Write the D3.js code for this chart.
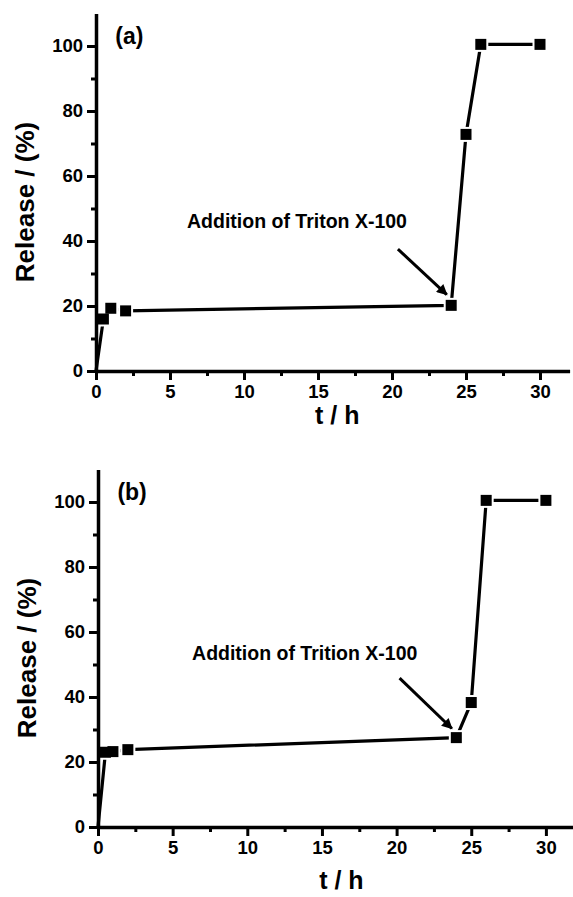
<!DOCTYPE html>
<html>
<head>
<meta charset="utf-8">
<script src="https://cdn.jsdelivr.net/npm/d3@7"></script>
<style>
  body { margin: 0; background: #fff; }
  text { font-family: "Liberation Sans", Arial, sans-serif; font-weight: bold; fill: #000; }
</style>
</head>
<body>
<script>
// values
const timeA = [0, 0.5, 1, 2, 24, 25, 26, 30];
const releaseA = [0, 16, 19.3, 18.5, 20.2, 72.8, 100.5, 100.5];
const timeB = [0, 0.5, 1, 2, 24, 25, 26, 30];
const releaseB = [0, 23, 23.2, 23.8, 27.5, 38.3, 100.5, 100.5];

const xMajor = [0, 5, 10, 15, 20, 25, 30];
const xMinor = [2.5, 7.5, 12.5, 17.5, 22.5, 27.5];
const yMajor = [0, 20, 40, 60, 80, 100];
const yMinor = [10, 30, 50, 70, 90];

const panelLabels = ["(a)", "(b)"];
const noteTexts = ["Addition of Triton X-100", "Addition of Trition X-100"];
const xTitle = "t / h";
const yTitle = "Release / (%)";

const W = 573, H = 897;

const svg = d3.select("body").append("svg")
    .attr("width", W)
    .attr("height", H);

const defs = svg.append("defs");
defs.append("marker")
    .attr("id", "head")
    .attr("viewBox", "0 0 10 10")
    .attr("refX", 9).attr("refY", 5)
    .attr("markerWidth", 5.5).attr("markerHeight", 3.6)
    .attr("markerUnits", "strokeWidth")
    .attr("orient", "auto")
  .append("path")
    .attr("d", "M0,0 L10,5 L0,10 Z")
    .attr("fill", "#000");

function drawPanel(cfg) {
    let data = cfg.time.map((t, i) => ({ t: t, v: cfg.release[i] }));

    let x = d3.scaleLinear()
        .domain([0, 32])
        .range([cfg.left, cfg.left + 32 * cfg.xUnit]);

    let y = d3.scaleLinear()
        .domain([0, 110])
        .range([cfg.bottom, cfg.bottom - 110 * 3.25]);

    let g = svg.append("g");
    // data layer goes under the axes
    let dataG = g.append("g");

    // minor ticks first, so the major axis line sits on top
    g.append("g")
        .attr("transform", `translate(0,${cfg.bottom})`)
        .call(d3.axisBottom(x).tickValues(xMinor).tickSize(5).tickFormat(""))
        .call(a => a.select(".domain").remove());
    g.append("g")
        .attr("transform", `translate(${cfg.left},0)`)
        .call(d3.axisLeft(y).tickValues(yMinor).tickSize(5).tickFormat(""))
        .call(a => a.select(".domain").remove());

    g.append("g")
        .attr("transform", `translate(0,${cfg.bottom})`)
        .call(d3.axisBottom(x).tickValues(xMajor).tickSize(9).tickSizeOuter(0).tickPadding(5));
    g.append("g")
        .attr("transform", `translate(${cfg.left},0)`)
        .call(d3.axisLeft(y).tickValues(yMajor).tickSize(9).tickSizeOuter(0).tickPadding(4));

    g.selectAll(".domain").attr("stroke", "#000").attr("stroke-width", 3.5);
    g.selectAll(".tick line").attr("stroke", "#000").attr("stroke-width", 3);
    g.selectAll(".tick text").style("font-size", "18.5px").attr("fill", "#000");

    // axis titles
    g.append("text")
        .attr("x", x(16.3))
        .attr("y", cfg.bottom + cfg.xTitleDy)
        .attr("text-anchor", "middle")
        .style("font-size", "25px")
        .text(xTitle);

    g.append("text")
        .attr("transform", `translate(${cfg.left - 62},${y(cfg.yTitleAt)}) rotate(-90)`)
        .attr("text-anchor", "middle")
        .style("font-size", "26px")
        .text(yTitle);

    g.append("text")
        .attr("x", x(1.3))
        .attr("y", y(100.5))
        .style("font-size", "23px")
        .text(cfg.label);

    // data line
    let line = d3.line().x(d => x(d.t)).y(d => y(d.v));
    dataG.append("path")
        .datum(data)
        .attr("fill", "none")
        .attr("stroke", "#000")
        .attr("stroke-width", 3.2)
        .attr("d", line);

    let pts = data.filter(d => d.t > 0);
    let s = 11;
    // white halo gives the small gap between line and symbol
    dataG.append("g").selectAll("rect")
        .data(pts).enter().append("rect")
        .attr("x", d => x(d.t) - s / 2 - 2)
        .attr("y", d => y(d.v) - s / 2 - 2)
        .attr("width", s + 4).attr("height", s + 4)
        .attr("fill", "#fff");
    dataG.append("g").selectAll("rect")
        .data(pts).enter().append("rect")
        .attr("x", d => x(d.t) - s / 2)
        .attr("y", d => y(d.v) - s / 2)
        .attr("width", s).attr("height", s)
        .attr("fill", "#000");

    // annotation
    g.append("text")
        .attr("x", x(cfg.note.t))
        .attr("y", y(cfg.note.v))
        .style("font-size", "19.5px")
        .text(cfg.noteText);

    g.append("line")
        .attr("x1", x(cfg.arrow[0])).attr("y1", y(cfg.arrow[1]))
        .attr("x2", x(cfg.arrow[2])).attr("y2", y(cfg.arrow[3]))
        .attr("stroke", "#000")
        .attr("stroke-width", 3)
        .attr("marker-end", "url(#head)");
}

drawPanel({
    time: timeA, release: releaseA,
    left: 96, bottom: 371, xUnit: 14.8,
    xTitleDy: 53, yTitleAt: 52,
    label: panelLabels[0],
    noteText: noteTexts[0], note: { t: 6.15, v: 44 },
    arrow: [20.4, 37.5, 23.7, 23.5]
});

drawPanel({
    time: timeB, release: releaseB,
    left: 98, bottom: 827, xUnit: 14.93,
    xTitleDy: 62, yTitleAt: 52,
    label: panelLabels[1],
    noteText: noteTexts[1], note: { t: 6.3, v: 51.4 },
    arrow: [20.2, 45.8, 23.7, 30.3]
});
</script>
</body>
</html>
